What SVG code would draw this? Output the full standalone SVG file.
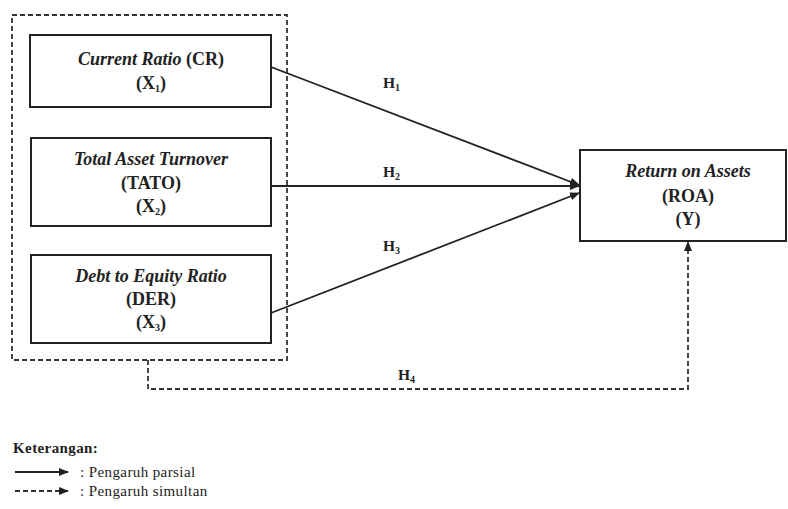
<svg xmlns="http://www.w3.org/2000/svg" width="788" height="509" viewBox="0 0 788 509">
<style>
.box{fill:#fff;stroke:#222;stroke-width:2}
.dbox{fill:none;stroke:#333;stroke-width:1.8;stroke-dasharray:5,3}
.t{font-family:'Liberation Serif',serif;font-weight:bold;font-size:18px;fill:#222;text-anchor:middle}
.i{font-style:italic}
.h{font-family:'Liberation Serif',serif;font-weight:bold;font-size:15.5px;fill:#222}
.sub{font-size:10px}
.l{font-family:'Liberation Serif',serif;font-size:15px;fill:#222;letter-spacing:0.4px}
.solid{stroke:#222;stroke-width:1.8;fill:none}
.dash{stroke:#333;stroke-width:1.8;fill:none;stroke-dasharray:5,3}
</style>
<defs>
<marker id="ah" markerWidth="10" markerHeight="8" refX="9" refY="4" orient="auto" markerUnits="userSpaceOnUse">
<path d="M0,0 L10,4 L0,8 z" fill="#222"/>
</marker>
</defs>
<rect width="788" height="509" fill="#fff"/>
<g id="group-x">
<rect class="dbox" x="12" y="15" width="275" height="345"/>
</g>
<g id="x1">
<rect class="box" x="30" y="35" width="241" height="72"/>
<text class="t" x="151" y="65"><tspan class="i">Current Ratio</tspan> (CR)</text>
<text class="t" x="151" y="89">(X<tspan class="sub" dy="3">1</tspan><tspan dy="-3">)</tspan></text>
</g>
<g id="x2">
<rect class="box" x="31" y="138" width="240" height="88"/>
<text class="t" x="151" y="165"><tspan class="i">Total Asset Turnover</tspan></text>
<text class="t" x="151" y="189">(TATO)</text>
<text class="t" x="151" y="212">(X<tspan class="sub" dy="3">2</tspan><tspan dy="-3">)</tspan></text>
</g>
<g id="x3">
<rect class="box" x="31" y="255" width="240" height="88"/>
<text class="t" x="151" y="282"><tspan class="i">Debt to Equity Ratio</tspan></text>
<text class="t" x="151" y="305">(DER)</text>
<text class="t" x="151" y="328">(X<tspan class="sub" dy="3">3</tspan><tspan dy="-3">)</tspan></text>
</g>
<g id="y">
<rect class="box" x="580" y="150" width="206" height="91"/>
<text class="t" x="688" y="177"><tspan class="i">Return on Assets</tspan></text>
<text class="t" x="688" y="202">(ROA)</text>
<text class="t" x="688" y="225">(Y)</text>
</g>
<g id="connectors">
<line class="solid" x1="271" y1="67" x2="579" y2="185" marker-end="url(#ah)"/>
<line class="solid" x1="271" y1="186" x2="579" y2="186" marker-end="url(#ah)"/>
<line class="solid" x1="271" y1="313" x2="579" y2="193" marker-end="url(#ah)"/>
<path class="dash" d="M148,360 V389 H688 V242" marker-end="url(#ah)"/>
<text class="h" x="383" y="88">H<tspan class="sub" dy="3">1</tspan></text>
<text class="h" x="383" y="177">H<tspan class="sub" dy="3">2</tspan></text>
<text class="h" x="383" y="251">H<tspan class="sub" dy="3">3</tspan></text>
<text class="h" x="398" y="380">H<tspan class="sub" dy="3">4</tspan></text>
</g>
<g id="legend">
<text class="l" x="13" y="453" font-weight="bold">Keterangan:</text>
<line class="solid" x1="15" y1="472" x2="68" y2="472" stroke-width="1.5" marker-end="url(#ah)"/>
<text class="l" x="80" y="477">: Pengaruh parsial</text>
<line class="dash" x1="15" y1="491" x2="68" y2="491" stroke-width="1.5" stroke-dasharray="4,3" marker-end="url(#ah)"/>
<text class="l" x="80" y="496">: Pengaruh simultan</text>
</g>
</svg>
